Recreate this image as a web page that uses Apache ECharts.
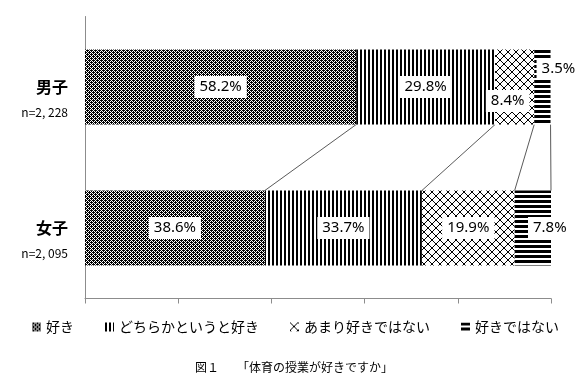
<!DOCTYPE html>
<html>
<head>
<meta charset="utf-8">
<script src="https://cdn.jsdelivr.net/npm/echarts@6/dist/echarts.min.js"></script>
<style>html,body{margin:0;padding:0;background:#fff}#c{width:588px;height:385px}</style>
</head>
<body>
<div id="c"></div>
<script>
var categories = ['男子', '女子'];
var sampleSizes = ['n=2, 228', 'n=2, 095'];
var seriesNames = ['好き', 'どちらかというと好き', 'あまり好きではない', '好きではない'];
var like = [58.2, 38.6];
var ratherLike = [29.8, 33.7];
var notMuch = [8.4, 19.9];
var dislike = [3.5, 7.8];
var caption = '図１　　「体育の授業が好きですか」';

function makePattern(w, h, draw) {
  var c = document.createElement('canvas');
  c.width = w; c.height = h;
  var ctx = c.getContext('2d');
  ctx.fillStyle = '#fff'; ctx.fillRect(0, 0, w, h);
  ctx.fillStyle = '#000';
  draw(ctx);
  return { image: c, repeat: 'repeat' };
}
var patDots = makePattern(4, 4, function (ctx) {
  for (var y = 0; y < 4; y++) for (var x = 0; x < 4; x++) {
    if ((x + y) % 2 === 0) ctx.fillRect(x, y, 1, 1);
  }
  ctx.fillRect(1, 0, 1, 1); ctx.fillRect(3, 2, 1, 1);
});
var patVert = makePattern(4, 4, function (ctx) { ctx.fillRect(0, 0, 2, 4); });
var patCross = makePattern(8, 8, function (ctx) {
  for (var i = 0; i < 8; i++) { ctx.fillRect(i, i, 1, 1); ctx.fillRect(7 - i, i, 1, 1); }
});
var patHoriz = makePattern(5, 5, function (ctx) { ctx.fillRect(0, 0, 5, 3); });
var patterns = [patDots, patVert, patCross, patHoriz];
var values = [like, ratherLike, notMuch, dislike];

// label offsets per series per category (layout only)
var labelOffsets = [
  [[0, 0], [0, 0]],
  [[0, 0], [0, 0]],
  [[-7, 14], [0, 0]],
  [[16, -18], [17, 0]]
];

var BAR_RATIO = 0.532;
var series = seriesNames.map(function (name, si) {
  return {
    name: name,
    type: 'bar',
    stack: 'total',
    barWidth: (BAR_RATIO * 100) + '%',
    itemStyle: { color: patterns[si] },
    label: {
      show: true,
      position: 'inside',
      formatter: function (p) { return p.value.toFixed(1) + '%'; },
      backgroundColor: '#fff',
      color: '#000',
      fontSize: 15,
      fontFamily: 'Noto Sans',
      padding: [4, 5, 3, 5]
    },
    data: values[si].map(function (v, ci) {
      return { value: v, label: { offset: labelOffsets[si][ci] } };
    })
  };
});

// connector (series) lines computed from cumulative values
var cumLines = [];
var cm = 0, cf = 0;
for (var i = 0; i < values.length; i++) {
  cm += values[i][0]; cf += values[i][1];
  cumLines.push([Math.min(cm, 100), Math.min(cf, 100)]);
}
series.push({
  type: 'custom',
  silent: true,
  encode: { x: [0, 1] },
  data: cumLines,
  renderItem: function (params, api) {
    var half = api.size([0, 1])[1] * BAR_RATIO / 2;
    var p1 = api.coord([api.value(0), 0]);
    var p2 = api.coord([api.value(1), 1]);
    return {
      type: 'line',
      shape: { x1: p1[0], y1: p1[1] + half, x2: p2[0], y2: p2[1] - half },
      style: { stroke: '#5a5a5a', lineWidth: 1 }
    };
  }
});

var chart = echarts.init(document.getElementById('c'));
chart.setOption({
  animation: false,
  backgroundColor: '#fff',
  title: {
    text: caption,
    left: 190, top: 356,
    textStyle: { fontSize: 12, fontWeight: 'normal', color: '#000', fontFamily: 'Noto Sans CJK JP' }
  },
  legend: {
    data: seriesNames,
    left: 27, top: 315,
    itemWidth: 9, itemHeight: 9, itemGap: 31,
    icon: 'rect',
    textStyle: { fontSize: 14, color: '#000', fontFamily: 'Noto Sans CJK JP' }
  },
  grid: { left: 85, right: 37, top: 16.5, height: 282 },
  xAxis: {
    type: 'value', min: 0, max: 100, interval: 20,
    axisLine: { show: true, lineStyle: { color: '#8c8c8c' } },
    axisTick: { show: true, length: 5, lineStyle: { color: '#8c8c8c' } },
    axisLabel: { show: false },
    splitLine: { show: false }
  },
  yAxis: {
    type: 'category', inverse: true, data: categories,
    axisLine: { show: true, lineStyle: { color: '#8c8c8c' } },
    axisTick: { show: false },
    axisLabel: {
      margin: 17,
      padding: [25, 0, 0, 0],
      formatter: function (v, idx) { return '{a|' + v + '}\n{b|' + sampleSizes[idx] + '}'; },
      rich: {
        a: { fontSize: 16, fontWeight: 'bold', color: '#000', lineHeight: 25, align: 'right', fontFamily: 'Noto Sans CJK JP' },
        b: { fontSize: 12, color: '#000', lineHeight: 25, align: 'right', fontFamily: 'Noto Sans CJK JP' }
      }
    }
  },
  series: series
});
</script>
</body>
</html>
